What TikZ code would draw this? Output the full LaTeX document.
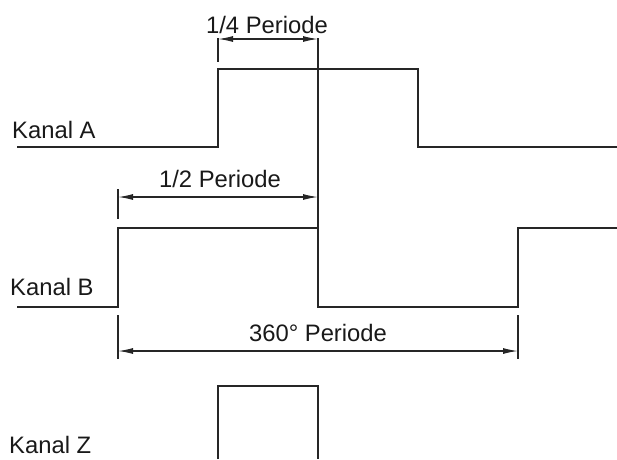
\documentclass[tikz,border=0pt]{standalone}
\usepackage{fontspec}
\setmainfont{Liberation Sans}
\usetikzlibrary{arrows.meta}
\begin{document}
\begin{tikzpicture}[x=1pt, y=-1pt, signal/.style = {line width=2.2pt, line join=miter, draw=black!85},
    dim/.style = {line width=1.3pt, draw=black!85, {Latex[length=15pt, width=6pt]}-{Latex[length=15pt, width=6pt]}},
    tick/.style = {line width=1.4pt, draw=black!85},
    txt/.style = {font=\fontsize{23.8}{28}\selectfont, inner sep=0pt, text=black!90}]
    \useasboundingbox (0,0) rectangle (617,459);
    % signals
    \draw[signal] (17,147) -- (218,147) -- (218,69) -- (418,69) -- (418,147) -- (617,147);
    \draw[signal] (17,307) -- (118,307) -- (118,228) -- (318,228) -- (318,307) -- (518,307) -- (518,228) -- (617,228);
    \draw[signal] (218,459) -- (218,386) -- (318,386) -- (318,459);
    \node[txt, anchor=base west] (kanalA) at (12,138) {Kanal A};
    \node[txt, anchor=base west] (kanalB) at (10,295) {Kanal B};
    \node[txt, anchor=base west] (kanalZ) at (9,453) {Kanal Z};
    % dimension lines
    \coordinate (q1) at (218,39);
    \coordinate (q2) at (318,39);
    \coordinate (h1) at (118,197);
    \coordinate (h2) at (318,197);
    \coordinate (p1) at (118,351);
    \coordinate (p2) at (518,351);
    \draw[tick] (218,38) -- (218,62);
    \draw[tick] (318,38) -- (318,228);
    \draw[tick] (118,189) -- (118,219);
    \draw[tick] (118,315) -- (118,359);
    \draw[tick] (518,315) -- (518,359);
    \draw[dim] (q1) -- (q2);
    \draw[dim] (h1) -- (h2);
    \draw[dim] (p1) -- (p2);
    \node[txt, anchor=base] (viertel) at (267,33) {1/4 Periode};
    \node[txt, anchor=base] (halb) at (220,187) {1/2 Periode};
    \node[txt, anchor=base] (voll) at (318,341) {360° Periode};
\end{tikzpicture}
\end{document}
